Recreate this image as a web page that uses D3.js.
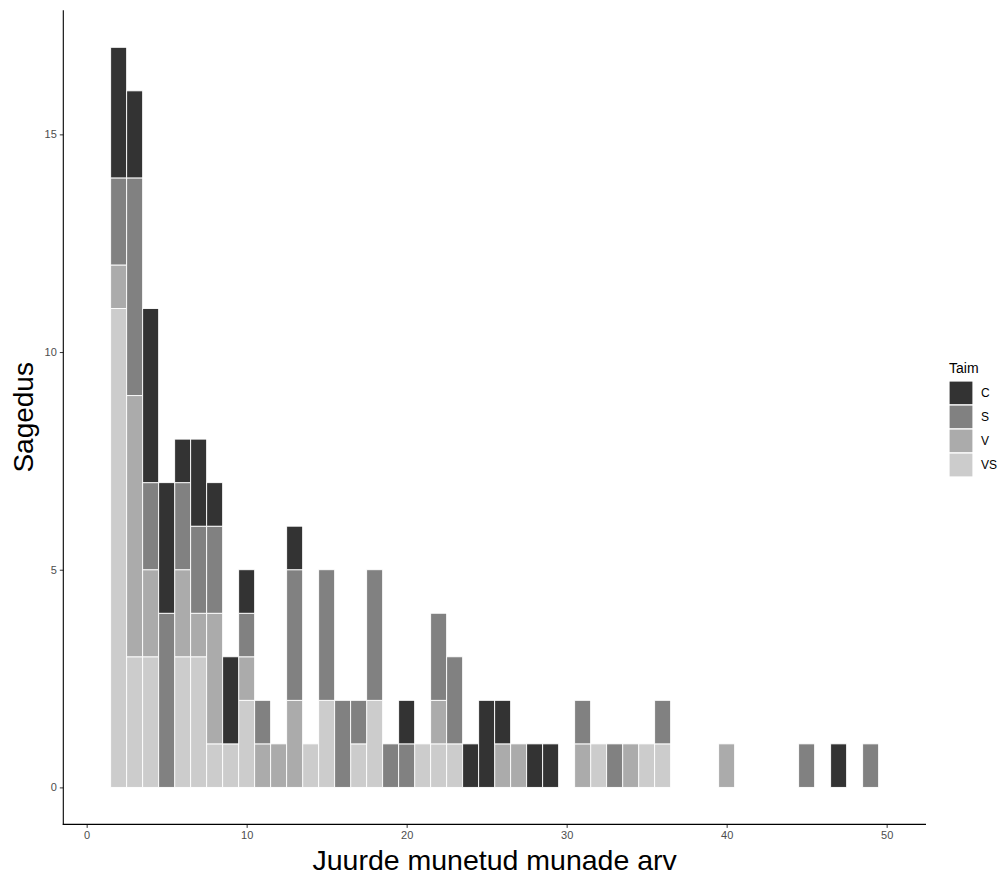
<!DOCTYPE html>
<html>
<head>
<meta charset="utf-8">
<script src="https://cdn.jsdelivr.net/npm/d3@7"></script>
<style>
  html, body { margin: 0; padding: 0; background: #fff; }
  svg { display: block; }
</style>
</head>
<body>
<svg id="chart" width="1001" height="875"></svg>
<script>
// Bin centres (number of eggs laid), 2..49
const bins = d3.range(2, 50);
const categories = ["C", "S", "V", "VS"];
// counts per bin for each Taim category (index 0 = bin 2)
const countsC  = [3,2,4,3,1,2,1,2,1,0,0,1,0,0,0,0,0,0,1,0,0,0,1,2,1,0,1,1,0,0,0,0,0,0,0,0,0,0,0,0,0,0,0,0,0,1,0,0];
const countsS  = [2,5,2,4,2,2,2,0,1,1,0,3,0,3,2,1,3,1,1,0,2,2,0,0,0,0,0,0,0,1,0,1,0,0,1,0,0,0,0,0,0,0,0,1,0,0,0,1];
const countsV  = [1,6,2,0,2,1,3,0,1,1,1,2,0,0,0,0,0,0,0,0,1,0,0,0,1,1,0,0,0,1,0,0,1,0,0,0,0,0,1,0,0,0,0,0,0,0,0,0];
const countsVS = [11,3,3,0,3,3,1,1,2,0,0,0,1,2,0,1,2,0,0,1,1,1,0,0,0,0,0,0,0,0,1,0,0,1,1,0,0,0,0,0,0,0,0,0,0,0,0,0];
const colors = ["#333333", "#818181", "#ababab", "#cccccc"];
const xTicks = [0, 10, 20, 30, 40, 50];
const yTicks = [0, 5, 10, 15];

const rows = bins.map((b, i) => ({ bin: b, C: countsC[i], S: countsS[i], V: countsV[i], VS: countsVS[i] }));

const svg = d3.select("#chart");
const pLeft = 63.3, pRight = 926, pTop = 10.3, pBottom = 824.4;

const x = d3.scaleLinear().domain([-1.46, 52.46]).range([pLeft, pRight]);
const y = d3.scaleLinear().domain([-0.85, 17.85]).range([pBottom, pTop]);
const color = d3.scaleOrdinal().domain(categories).range(colors);

// stack: VS at bottom, then V, S, C on top
const stack = d3.stack().keys(["VS", "V", "S", "C"]);
const series = stack(rows);

const g = svg.append("g");
series.forEach(s => {
  g.selectAll(null)
    .data(s.filter(d => d[1] - d[0] > 0))
    .enter().append("rect")
    .attr("x", d => x(d.data.bin - 0.5))
    .attr("width", d => x(d.data.bin + 0.5) - x(d.data.bin - 0.5))
    .attr("y", d => y(d[1]))
    .attr("height", d => y(d[0]) - y(d[1]))
    .attr("fill", color(s.key))
    .attr("stroke", "#ffffff")
    .attr("stroke-width", 0.9);
});

// axes
const xAxis = d3.axisBottom(x).tickValues(xTicks).tickSize(3.5).tickPadding(3);
const yAxis = d3.axisLeft(y).tickValues(yTicks).tickSize(3.5).tickPadding(3);

const gx = svg.append("g").attr("transform", `translate(0,${pBottom})`).call(xAxis);
const gy = svg.append("g").attr("transform", `translate(${pLeft},0)`).call(yAxis);

[gx, gy].forEach(a => {
  a.select(".domain").remove();
  a.selectAll(".tick line").attr("stroke", "#333333").attr("stroke-width", 1);
  a.selectAll(".tick text").attr("fill", "#4d4d4d")
    .style("font-family", "Liberation Sans, Arial, sans-serif").style("font-size", "11px");
});

svg.append("line").attr("x1", pLeft).attr("x2", pLeft).attr("y1", pTop).attr("y2", pBottom + 0.5)
  .attr("stroke", "#000").attr("stroke-width", 1.1);
svg.append("line").attr("x1", pLeft - 0.5).attr("x2", pRight).attr("y1", pBottom).attr("y2", pBottom)
  .attr("stroke", "#000").attr("stroke-width", 1.1);

// axis titles
svg.append("text")
  .attr("x", (pLeft + pRight) / 2).attr("y", 870)
  .attr("text-anchor", "middle")
  .style("font-family", "Liberation Sans, Arial, sans-serif").style("font-size", "28.5px")
  .attr("fill", "#000")
  .text("Juurde munetud munade arv");

svg.append("text")
  .attr("transform", `translate(33,${(pTop + pBottom) / 2}) rotate(-90)`)
  .attr("text-anchor", "middle")
  .style("font-family", "Liberation Sans, Arial, sans-serif").style("font-size", "28px")
  .attr("fill", "#000")
  .text("Sagedus");

// legend
const lg = svg.append("g");
lg.append("text").attr("x", 949).attr("y", 373)
  .style("font-family", "Liberation Sans, Arial, sans-serif").style("font-size", "14px")
  .attr("fill", "#000").text("Taim");
categories.forEach((c, i) => {
  lg.append("rect").attr("x", 949).attr("y", 381 + i * 24).attr("width", 24).attr("height", 24)
    .attr("fill", color(c)).attr("stroke", "#fff").attr("stroke-width", 1.2);
  lg.append("text").attr("x", 981).attr("y", 393 + i * 24).attr("dy", "0.35em")
    .style("font-family", "Liberation Sans, Arial, sans-serif").style("font-size", "12px")
    .attr("fill", "#000").text(c);
});
</script>
</body>
</html>
